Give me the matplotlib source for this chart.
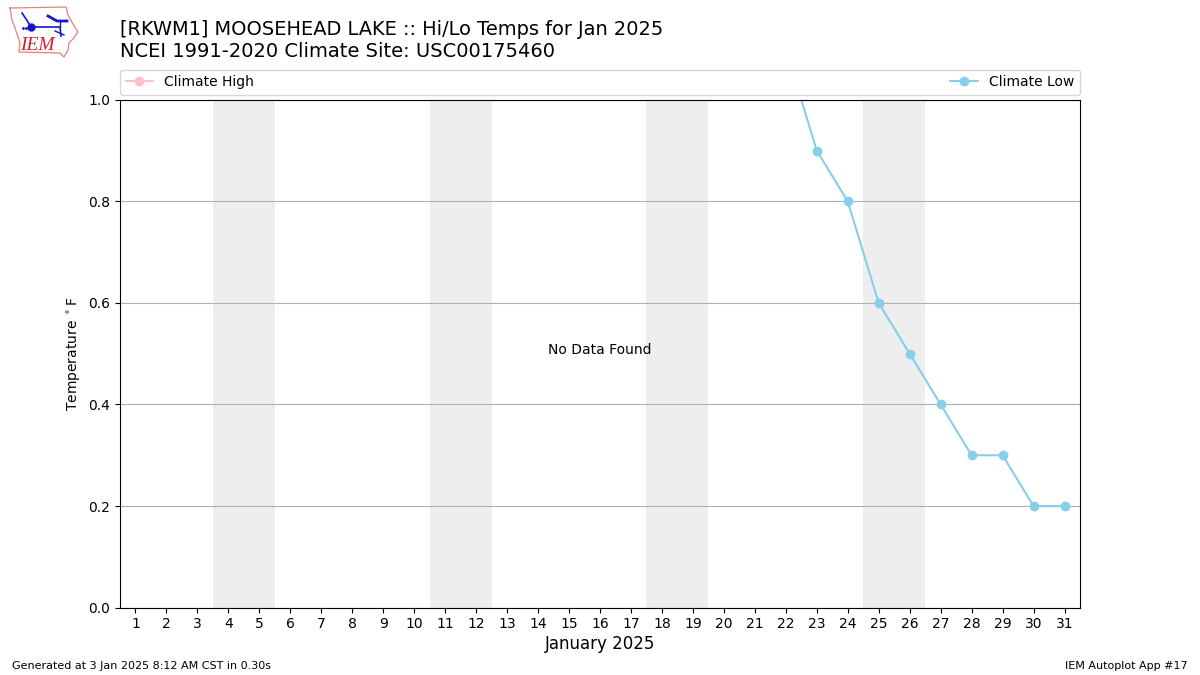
import matplotlib
matplotlib.use("Agg")
import matplotlib.pyplot as plt
from matplotlib.lines import Line2D

days = list(range(1, 32))
climate_high = [26, 26, 26, 25, 25, 25, 25, 25, 25, 24, 24, 24, 24, 24, 24, 24,
                24, 24, 24, 24, 24, 24, 24, 24, 24, 24, 24, 24, 25, 25, 25]
climate_low = [4.0, 3.8, 3.6, 3.4, 3.2, 3.0, 2.8, 2.7, 2.6, 2.5, 2.4, 2.3, 2.2,
               2.1, 2.0, 1.9, 1.8, 1.7, 1.6, 1.5, 1.3, 1.1, 0.9, 0.8, 0.6, 0.5,
               0.4, 0.3, 0.3, 0.2, 0.2]
weekend_starts = [3.5, 10.5, 17.5, 24.5]
yticks = [0.0, 0.2, 0.4, 0.6, 0.8, 1.0]
title_line1 = "[RKWM1] MOOSEHEAD LAKE :: Hi/Lo Temps for Jan 2025"
title_line2 = "NCEI 1991-2020 Climate Site: USC00175460"

fig = plt.figure(figsize=(12, 6.75), dpi=100)
ax = fig.add_axes([120 / 1200, 1 - 607.6 / 675, 960 / 1200, 507.8 / 675])

for start in weekend_starts:
    ax.axvspan(start, start + 2, color="#eeeeee", lw=0, zorder=1)

ax.plot(days, climate_high, color="pink", marker="o", ms=6, lw=1.5, label="Climate High", zorder=3)
ax.plot(days, climate_low, color="skyblue", marker="o", ms=6, lw=1.5, label="Climate Low", zorder=3)

ax.set_xlim(0.5, 31.5)
ax.set_ylim(0, 1)
ax.set_xticks(days)
ax.set_yticks(yticks)
ax.tick_params(axis="both", labelsize=10)
ax.yaxis.grid(True, color="#b0b0b0", lw=0.8, zorder=2)
ax.set_axisbelow(False)
for spine in ax.spines.values():
    spine.set_zorder(6)
ax.set_ylabel(r"Temperature $^\circ$F", fontsize=10)
ax.set_xlabel("January 2025", fontsize=12, labelpad=2.5)
ax.text(0.5, 0.5, "No Data Found", transform=ax.transAxes, ha="center", va="baseline", fontsize=10)

ax.legend(loc="lower left", bbox_to_anchor=(0, 1 + 5 / 508, 1, 24 / 508), mode="expand", ncol=2,
          borderaxespad=0, fontsize=10)

fig.text(120 / 1200, 1 - 35 / 675, title_line1, fontsize=13.98, va="baseline", ha="left")
fig.text(120 / 1200, 1 - 57 / 675, title_line2, fontsize=14, va="baseline", ha="left")
fig.text(12 / 1200, 1 - 666 / 675, "Generated at 3 Jan 2025 8:12 AM CST in 0.30s", fontsize=8, va="center")
fig.text(1188 / 1200, 1 - 666 / 675, "IEM Autoplot App #17", fontsize=8, va="center", ha="right")

def px(points):
    return [p[0] / 1200 for p in points], [1 - p[1] / 675 for p in points]

outline = [(10, 8), (66, 7), (68, 15), (73, 24), (78, 32), (73, 39), (69, 43), (68, 50),
           (64, 57), (60, 53), (19, 52), (20, 43), (15, 28), (12, 20), (10, 8)]
x, y = px(outline)
fig.add_artist(Line2D(x, y, color="#e58080", lw=0.9))
for seg, lw in [([(22, 13), (26, 19), (31, 27), (60, 27), (61, 36)], 1.2),
                ([(48, 16), (57, 21), (67, 21)], 2.0),
                ([(55, 31), (64, 35)], 1.0),
                ([(60, 20), (60, 27)], 1.0)]:
    x, y = px(seg)
    fig.add_artist(Line2D(x, y, color="#1515cc", lw=lw))
x, y = px([(31, 27)])
fig.add_artist(Line2D(x, y, color="#1515cc", marker="o", ms=5, lw=0))
x, y = px([(23, 28), (26, 28)])
fig.add_artist(Line2D(x, y, color="#1515cc", marker=".", ms=2, lw=0))
fig.text(20 / 1200, 1 - 45.5 / 675, "IEM", color="#d02030", fontsize=14, family="Liberation Serif",
         style="italic", va="center", ha="left")

fig.savefig("out.png", dpi=100)
